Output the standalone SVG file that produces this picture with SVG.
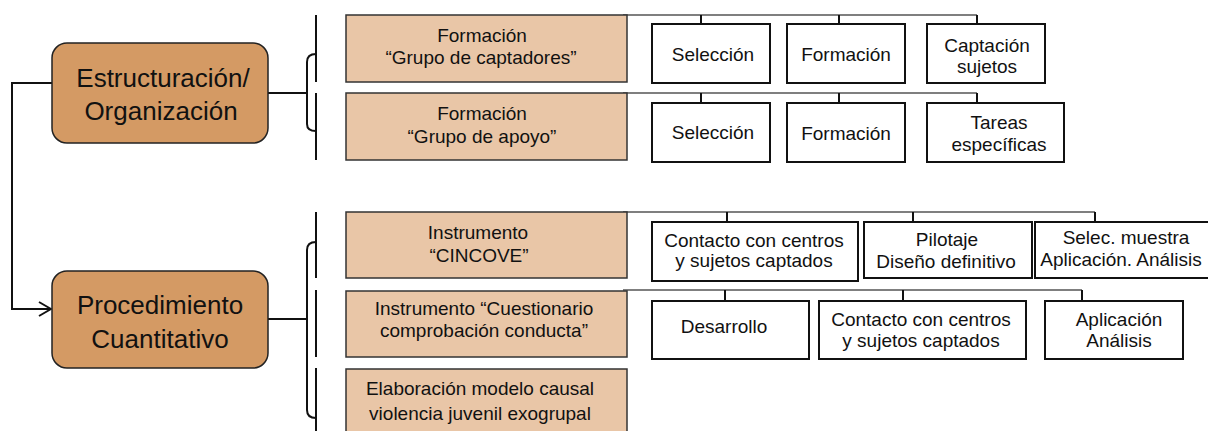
<svg xmlns="http://www.w3.org/2000/svg" width="1208" height="431" viewBox="0 0 1208 431">
<defs>
<style>
text{font-family:"Liberation Sans",Arial,sans-serif;fill:#111;text-anchor:middle}
.main rect{fill:#D49A64;stroke:#222;stroke-width:1.5}
.main text{font-size:26px}
.sub rect{fill:#E9C6A7;stroke:#333;stroke-width:1.5}
.sub text{font-size:19px}
.leaf rect{fill:#fff;stroke:#111;stroke-width:2}
.leaf text{font-size:19px}
.ln{fill:none;stroke:#111;stroke-width:2}
.hl{fill:none;stroke:#555;stroke-width:1.5}
.tk{fill:none;stroke:#111;stroke-width:2}
</style>
<marker id="chev" viewBox="0 0 14 16" refX="13" refY="8" markerWidth="14" markerHeight="16" markerUnits="userSpaceOnUse" orient="auto">
<path d="M1,1 L13,8 L1,15" fill="none" stroke="#111" stroke-width="2"/>
</marker>
</defs>
<rect width="1208" height="431" fill="#fff"/>

<g id="connectors">
<path class="ln" d="M52,83 H12 V309 H51" marker-end="url(#chev)"/>
<path class="ln" d="M268,93 H307"/>
<path class="ln" d="M268,319 H307"/>
<path class="ln" d="M316,15 V82 M316,93 V160"/>
<path class="ln" d="M316,54 Q307,54 307,62 V124 Q307,131 316,131"/>
<path class="ln" d="M316,212 V278 M316,290 V357 M316,368 V431"/>
<path class="ln" d="M316,242 Q307,242 307,250 V410 Q307,418 316,418"/>
<path class="hl" d="M623,15 H977"/>
<path class="tk" d="M701,15 V24 M839,15 V24 M977,15 V24"/>
<path class="hl" d="M623,93 H977"/>
<path class="tk" d="M701,93 V103 M839,93 V103 M977,93 V103"/>
<path class="hl" d="M623,212 H1095"/>
<path class="tk" d="M727,212 V222 M913,212 V222 M1095,212 V222"/>
<path class="hl" d="M623,290 H1082"/>
<path class="tk" d="M725,290 V301 M903,290 V301 M1082,290 V301"/>
</g>

<g id="estructuracion" class="main">
<rect x="52" y="43" width="216" height="100" rx="15"/>
<text x="163" y="87">Estructuración/</text>
<text x="161" y="120">Organización</text>
</g>
<g id="procedimiento" class="main">
<rect x="52" y="271" width="216" height="97" rx="15"/>
<text x="160" y="314">Procedimiento</text>
<text x="160" y="348">Cuantitativo</text>
</g>

<g id="form-captadores" class="sub">
<rect x="346" y="15" width="281" height="67"/>
<text x="482" y="42">Formación</text>
<text x="481" y="64">“Grupo de captadores”</text>
</g>
<g id="form-apoyo" class="sub">
<rect x="346" y="93" width="281" height="67"/>
<text x="482" y="120">Formación</text>
<text x="482" y="143">“Grupo de apoyo”</text>
</g>
<g id="inst-cincove" class="sub">
<rect x="346" y="212" width="281" height="66"/>
<text x="478" y="239">Instrumento</text>
<text x="479" y="262">“CINCOVE”</text>
</g>
<g id="inst-cuestionario" class="sub">
<rect x="346" y="291" width="281" height="66"/>
<text x="484" y="315">Instrumento “Cuestionario</text>
<text x="484" y="337">comprobación conducta”</text>
</g>
<g id="elaboracion" class="sub">
<rect x="346" y="369" width="281" height="66"/>
<text x="480" y="395">Elaboración modelo causal</text>
<text x="480" y="420">violencia juvenil exogrupal</text>
</g>

<g id="seleccion1" class="leaf">
<rect x="652" y="24" width="118" height="59"/>
<text x="713" y="61">Selección</text>
</g>
<g id="formacion1" class="leaf">
<rect x="787" y="24" width="118" height="59"/>
<text x="846" y="61">Formación</text>
</g>
<g id="captacion" class="leaf">
<rect x="927" y="24" width="118" height="59"/>
<text x="987" y="52">Captación</text>
<text x="987" y="73">sujetos</text>
</g>

<g id="seleccion2" class="leaf">
<rect x="652" y="103" width="118" height="59"/>
<text x="713" y="139">Selección</text>
</g>
<g id="formacion2" class="leaf">
<rect x="787" y="103" width="118" height="59"/>
<text x="846" y="140">Formación</text>
</g>
<g id="tareas" class="leaf">
<rect x="927" y="103" width="137" height="59"/>
<text x="999" y="129">Tareas</text>
<text x="999" y="151">específicas</text>
</g>

<g id="contacto1" class="leaf">
<rect x="652" y="222" width="206" height="59"/>
<text x="754" y="247">Contacto con centros</text>
<text x="754" y="267">y sujetos captados</text>
</g>
<g id="pilotaje" class="leaf">
<rect x="864" y="222" width="168" height="56"/>
<text x="947" y="246">Pilotaje</text>
<text x="946" y="268">Diseño definitivo</text>
</g>
<g id="selec-muestra" class="leaf">
<rect x="1035" y="222" width="178" height="56"/>
<text x="1126" y="244">Selec. muestra</text>
<text x="1121" y="266">Aplicación. Análisis</text>
</g>

<g id="desarrollo" class="leaf">
<rect x="652" y="301" width="157" height="58"/>
<text x="724" y="333">Desarrollo</text>
</g>
<g id="contacto2" class="leaf">
<rect x="819" y="301" width="207" height="58"/>
<text x="921" y="326">Contacto con centros</text>
<text x="921" y="347">y sujetos captados</text>
</g>
<g id="aplicacion" class="leaf">
<rect x="1045" y="301" width="138" height="58"/>
<text x="1119" y="326">Aplicación</text>
<text x="1119" y="347">Análisis</text>
</g>
</svg>
